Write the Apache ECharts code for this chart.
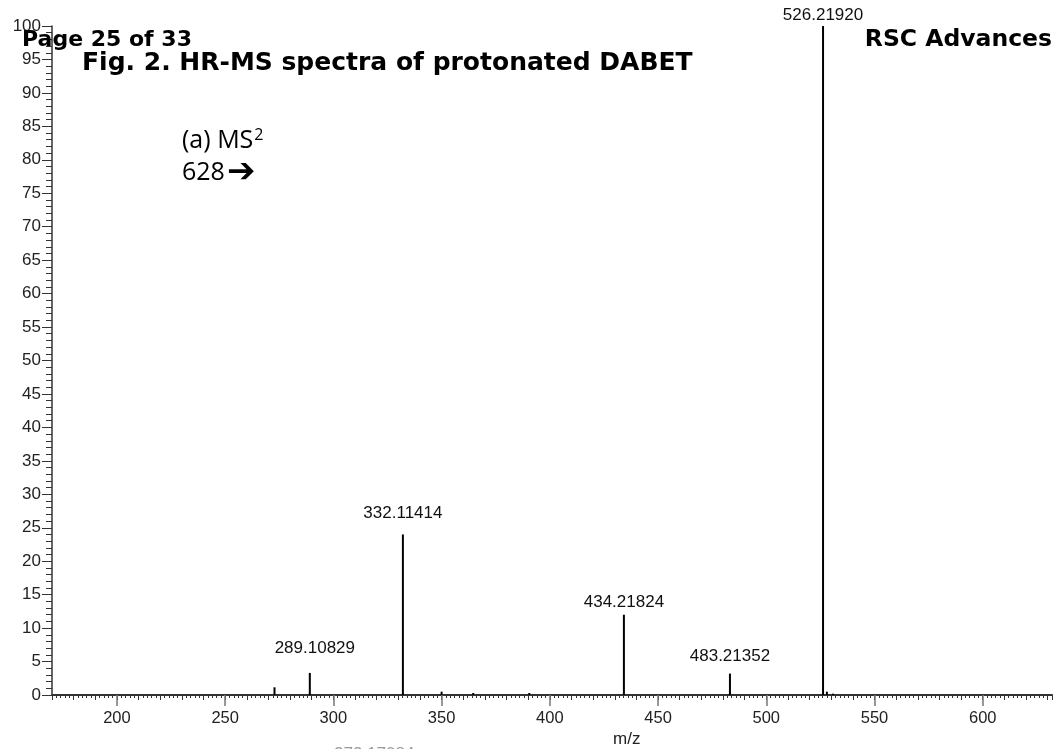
<!DOCTYPE html>
<html>
<head>
<meta charset="utf-8">
<script src="https://cdn.jsdelivr.net/npm/echarts@6/dist/echarts.min.js"></script>
<style>
html,body{margin:0;padding:0;background:#fff;}
#chart{width:1056px;height:749px;}
</style>
</head>
<body>
<div id="chart"></div>
<script>
// peak list
const mzValues    = [272.8, 289.10829, 332.11414, 350.0, 364.6, 390.5, 434.21824, 483.21352, 526.21920, 528.0, 530.8];
const intensities = [1.15, 3.3, 24.0, 0.5, 0.3, 0.3, 12.0, 3.2, 100.0, 0.5, 0.2];
const peakLabels  = ['', '289.10829', '332.11414', '', '', '', '434.21824', '483.21352', '526.21920', '', ''];
const labelGaps   = [0, 16, 13, 0, 0, 0, 4, 9, 2, 0, 0];
const labelShiftX = [0, 5, 0, 0, 0, 0, 0, 0, 0, 0, 0];
const yTicks = [0, 100, 5];           // min, max, step
const xMajorTicks = [200, 250, 300, 350, 400, 450, 500, 550, 600];
const xRange = [170, 632];

const chart = echarts.init(document.getElementById('chart'));
const FONT = '"Liberation Sans", Arial, sans-serif';

const seriesData = mzValues.map((m, i) => {
  const d = { value: [m, intensities[i]] };
  if (peakLabels[i]) {
    d.label = { show: true, position: 'top', distance: labelGaps[i], offset: [labelShiftX[i], 0], formatter: peakLabels[i] };
  }
  return d;
});

chart.setOption({
  animation: false,
  backgroundColor: '#fff',
  grid: { left: 52, right: 4, top: 26, bottom: 54, containLabel: false, outerBoundsMode: 'none' },
  xAxis: [
    {
      type: 'value', min: xRange[0], max: xRange[1], interval: 10,
      position: 'bottom',
      axisLine: { show: true, lineStyle: { color: '#333', width: 2 } },
      axisTick: { show: true, length: 5, lineStyle: { color: '#333', width: 1 } },
      minorTick: { show: true, splitNumber: 5, length: 3, lineStyle: { color: '#333', width: 1 } },
      splitLine: { show: false },
      axisLabel: {
        show: true, margin: 15, color: '#222', fontSize: 16.5, fontFamily: FONT,
        formatter: v => (v % 50 === 0 ? String(v) : ''),
        showMinLabel: false, showMaxLabel: false
      }
    },
    {
      type: 'value', min: xRange[0], max: xRange[1],
      position: 'bottom', offset: 0,
      axisLine: { show: false },
      axisTick: { show: true, length: 11, customValues: xMajorTicks, lineStyle: { color: '#777', width: 1.5 } },
      axisLabel: { show: false },
      splitLine: { show: false }
    }
  ],
  yAxis: {
    type: 'value', min: yTicks[0], max: yTicks[1], interval: yTicks[2],
    axisLine: { show: true, lineStyle: { color: '#333', width: 1.5 } },
    axisTick: { show: true, length: 10, lineStyle: { color: '#333', width: 1 } },
    minorTick: { show: true, splitNumber: 5, length: 6, lineStyle: { color: '#333', width: 1 } },
    splitLine: { show: false },
    axisLabel: { margin: 11, color: '#222', fontSize: 17, fontFamily: FONT }
  },
  series: [{
    type: 'bar',
    xAxisIndex: 0,
    barWidth: 2,
    itemStyle: { color: '#000' },
    label: { show: false, color: '#111', fontSize: 17, fontFamily: FONT },
    data: seriesData,
    z: 5
  }],
  graphic: [
    { type: 'text', left: 22, top: 29, z: 10, style: { text: 'Page 25 of 33', font: 'bold 22px "DejaVu Sans", sans-serif', fill: '#000' } },
    { type: 'text', left: 82, top: 51, z: 10, style: { text: 'Fig. 2. HR-MS spectra of protonated DABET', font: 'bold 25px "DejaVu Sans", sans-serif', fill: '#000' } },
    { type: 'text', right: 4, top: 28, z: 10, style: { text: 'RSC Advances', font: 'bold 23.5px "DejaVu Sans", sans-serif', fill: '#000' } },
    { type: 'text', left: 182, top: 127, z: 10, style: {
        text: '{m|(a) MS}{s|2}',
        rich: {
          m: { fontFamily: '"Open Sans", "Noto Sans", sans-serif', fontSize: 25, fill: '#000', verticalAlign: 'bottom' },
          s: { fontFamily: '"Open Sans", "Noto Sans", sans-serif', fontSize: 16, fill: '#000', verticalAlign: 'top', padding: [0, 0, 10, 1] }
        }
    } },
    { type: 'text', left: 182, top: 156, z: 10, style: {
        text: '{m|628}{a|➔}',
        rich: {
          m: { fontFamily: '"Open Sans", "Noto Sans", sans-serif', fontSize: 25, fill: '#000' },
          a: { fontFamily: '"DejaVu Sans", sans-serif', fontSize: 34, fill: '#000', padding: [0, 0, 0, 2] }
        }
    } },
    { type: 'text', left: 613, top: 731, z: 10, style: { text: 'm/z', font: '17px "Liberation Sans", Arial', fill: '#222' } },
    { type: 'text', left: 334, top: 746, z: 10, style: { text: '273.17084', font: '17px "Liberation Sans", Arial', fill: '#999' } }
  ]
});
</script>
</body>
</html>
